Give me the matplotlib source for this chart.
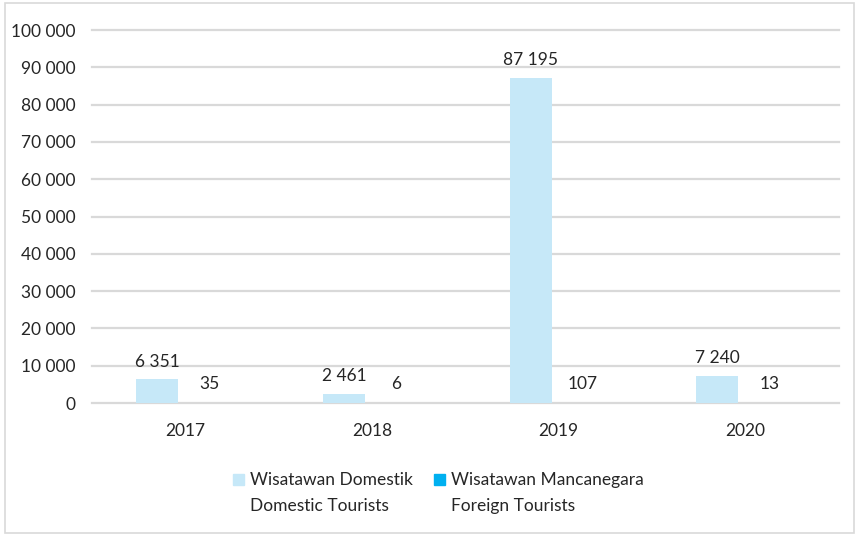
import matplotlib
matplotlib.use("Agg")
import matplotlib.pyplot as plt
from matplotlib.patches import Rectangle, Patch
import numpy as np

years = ["2017", "2018", "2019", "2020"]
domestic = [6351, 2461, 87195, 7240]
foreign = [35, 6, 107, 13]
yticks = [0, 10000, 20000, 30000, 40000, 50000, 60000, 70000, 80000, 90000, 100000]

plt.rcParams['font.family'] = ['Lato', 'DejaVu Sans']

def fmt(v):
    return f"{v:,}".replace(",", " ")

FS = 12.5
TC = "#262626"

fig = plt.figure(figsize=(8.55, 5.36), dpi=100)
ax = fig.add_axes([0.1076, 0.248, 0.8734, 0.696])

x = np.arange(len(years))
w = 0.225
c_dom = "#C6E8F8"
c_for = "#00B0F0"
ax.bar(x - 0.15, domestic, w, color=c_dom, zorder=3)
ax.bar(x + 0.13, foreign, w, color=c_for, zorder=3)

for i in range(len(years)):
    ax.annotate(fmt(domestic[i]), (x[i] - 0.15, domestic[i]), xytext=(0, 7),
                textcoords="offset points", ha="center", va="bottom", fontsize=FS, color=TC)
    ax.annotate(fmt(foreign[i]), (x[i] + 0.13, foreign[i]), xytext=(0, 8),
                textcoords="offset points", ha="center", va="bottom", fontsize=FS, color=TC)

ax.set_xlim(-0.5, len(years) - 0.5)
ax.set_ylim(0, 100000)
ax.set_yticks(yticks)
ax.set_yticklabels([fmt(v) for v in yticks], fontsize=FS, color=TC)
ax.set_xticks(x)
ax.set_xticklabels(years, fontsize=FS, color=TC)
ax.tick_params(axis="y", length=0, pad=12)
ax.tick_params(axis="x", length=0, pad=14)
ax.yaxis.grid(True, color="#D9D9D9", linewidth=1.6, zorder=0)
for gl in ax.yaxis.get_gridlines():
    gl.set_clip_on(False)
ax.set_axisbelow(True)
for s in ax.spines.values():
    s.set_visible(False)

handles = [Patch(color=c_dom), Patch(color=c_for)]
labels = ["Wisatawan Domestik\nDomestic Tourists", "Wisatawan Mancanegara\nForeign Tourists"]
leg = fig.legend(handles, labels, loc="center", bbox_to_anchor=(0.513, 0.08), ncol=2,
                 frameon=False, fontsize=FS, handlelength=0.65, handleheight=0.65,
                 handletextpad=0.35, columnspacing=1.2)
for h in leg.legend_handles:
    h.set_y(h.get_y() + 10)
for t in leg.get_texts():
    t.set_color(TC)
    t.set_linespacing(1.75)

fig.patches.append(Rectangle((5 / 855, 3 / 536), 849 / 855, 530 / 536, transform=fig.transFigure,
                             fill=False, edgecolor="#D9D9D9", linewidth=1.2))

fig.savefig("out.png", dpi=100)
